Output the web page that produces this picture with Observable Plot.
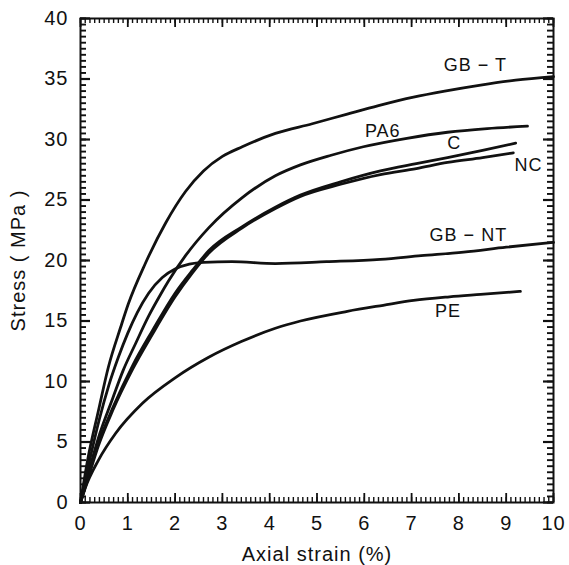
<!DOCTYPE html>
<html>
<head>
<meta charset="utf-8">
<script src="https://cdn.jsdelivr.net/npm/d3@7"></script>
<script src="https://cdn.jsdelivr.net/npm/@observablehq/plot@0.6"></script>
<style>
  html, body { margin: 0; padding: 0; background: #fff; }
  #chart { width: 569px; height: 565px; }
  svg text { font-family: "Liberation Sans", Arial, sans-serif; letter-spacing: 1px; }
</style>
</head>
<body>
<div id="chart"></div>
<script>
// Strain (%) / stress (MPa) pairs
const gbT_x = [0, 0.15, 0.38, 0.59, 0.85, 1.01, 1.37, 1.8, 2.22, 2.6, 3.0, 3.42, 4.12, 4.9, 5.64, 6.3, 7.04, 7.7, 8.46, 9.2, 10];
const gbT_y = [0, 3.5, 7.6, 11.2, 14.5, 16.4, 19.75, 23.1, 25.7, 27.4, 28.6, 29.4, 30.5, 31.3, 32.1, 32.8, 33.5, 34.0, 34.5, 34.9, 35.2];

const pa6_x = [0, 0.2, 0.4, 0.68, 0.9, 1.16, 1.44, 1.65, 1.86, 2.22, 2.71, 3.42, 4.12, 4.65, 5.3, 5.98, 6.9, 7.76, 8.6, 9.45];
const pa6_y = [0, 2.9, 5.6, 8.6, 10.9, 13.1, 15.4, 16.9, 18.3, 20.4, 22.7, 25.2, 27.0, 27.9, 28.7, 29.4, 30.1, 30.6, 30.9, 31.1];

const c_x = [0, 0.2, 0.38, 0.68, 1.1, 1.52, 2.0, 2.37, 2.71, 3.42, 4.12, 4.65, 5.5, 6.34, 7.1, 7.76, 8.5, 9.2];
const c_y = [0, 2.7, 4.9, 7.8, 11.3, 14.2, 17.3, 19.2, 20.8, 22.8, 24.4, 25.4, 26.5, 27.4, 28.0, 28.5, 29.1, 29.7];

const nc_x = [0, 0.2, 0.38, 0.68, 1.1, 1.52, 2.0, 2.37, 2.71, 3.42, 4.12, 4.65, 5.5, 6.34, 7.1, 7.76, 8.5, 9.15];
const nc_y = [0, 2.5, 4.7, 7.6, 11.0, 13.9, 17.0, 19.0, 20.6, 22.7, 24.3, 25.3, 26.3, 27.1, 27.6, 28.1, 28.5, 28.9];

const gbNT_x = [0, 0.2, 0.4, 0.6, 0.8, 1.0, 1.2, 1.44, 1.73, 2.0, 2.3, 2.6, 3.2, 4.12, 5.2, 6.34, 7.2, 8.1, 9.0, 10];
const gbNT_y = [0, 3.6, 6.9, 9.7, 12.0, 14.0, 15.7, 17.3, 18.6, 19.3, 19.7, 19.85, 19.9, 19.75, 19.9, 20.1, 20.4, 20.7, 21.1, 21.5];

const pe_x = [0, 0.1, 0.38, 0.74, 1.31, 2.0, 2.71, 3.4, 4.12, 4.65, 5.64, 6.4, 7.04, 7.8, 8.46, 9.3];
const pe_y = [0, 1.2, 3.5, 5.7, 8.2, 10.3, 12.0, 13.3, 14.4, 15.0, 15.8, 16.3, 16.7, 17.0, 17.2, 17.45];

const seriesNames = ["GB − T", "PA6", "C", "NC", "GB − NT", "PE"];
const seriesX = [gbT_x, pa6_x, c_x, nc_x, gbNT_x, pe_x];
const seriesY = [gbT_y, pa6_y, c_y, nc_y, gbNT_y, pe_y];

// Curve labels (anchored in data coordinates)
const labelText = ["GB − T", "PA6", "C", "NC", "GB − NT", "PE"];
const labelX = [8.35, 6.39, 7.9, 9.47, 8.2, 7.77];
const labelY = [36.1, 30.7, 29.7, 27.9, 22.1, 15.8];

const xTicks = [0, 1, 2, 3, 4, 5, 6, 7, 8, 9, 10];
const yTicks = [0, 5, 10, 15, 20, 25, 30, 35, 40];
const xMinor = d3.range(0, 100.5, 1).map(d => d / 10);
const yMinor = d3.range(0, 80.5, 1).map(d => d / 2);

const rows = [];
seriesNames.forEach((name, i) => {
  seriesX[i].forEach((x, j) => rows.push({series: name, x, y: seriesY[i][j]}));
});
const labels = labelText.map((t, i) => ({t, x: labelX[i], y: labelY[i]}));

const W = 569, H = 565, mL = 80, mR = 16, mT = 18, mB = 63;
const pw = W - mL - mR, ph = H - mT - mB;
const xMax = 10, yMax = 40;
// tick lengths: pixels converted to data units
const ty = px => px * yMax / ph;
const tx = px => px * xMax / pw;
const font = "Liberation Sans, Arial, sans-serif";
const ink = "#111";

const chart = Plot.plot({
  width: W,
  height: H,
  marginLeft: mL,
  marginRight: mR,
  marginTop: mT,
  marginBottom: mB,
  style: {fontFamily: font, fontSize: "20px", background: "#fff"},
  x: {domain: [0, xMax]},
  y: {domain: [0, yMax]},
  marks: [
    Plot.frame({stroke: ink, strokeWidth: 2}),
    // tick labels and axis titles
    Plot.axisX(xTicks, {anchor: "bottom", tickSize: 0, tickPadding: 13, fontSize: 20, fill: ink,
      label: "Axial strain (%)", labelAnchor: "center", labelArrow: "none", labelOffset: 58}),
    Plot.axisY(yTicks, {anchor: "left", tickSize: 0, tickPadding: 12, fontSize: 20, fill: ink,
      label: "Stress ( MPa )", labelAnchor: "center", labelArrow: "none", labelOffset: 70}),
    // curves and their labels
    Plot.line(rows, {x: "x", y: "y", z: "series", stroke: ink, strokeWidth: 2.8, curve: "monotone-x"}),
    Plot.text(labels, {x: "x", y: "y", text: "t", fontSize: 18, fill: ink}),
    // inward ticks on all four sides (drawn last)
    Plot.ruleX(xMinor, {x: d => d, y1: 0, y2: ty(5), stroke: ink, strokeWidth: 1.4}),
    Plot.ruleX(xMinor, {x: d => d, y1: yMax, y2: yMax - ty(5), stroke: ink, strokeWidth: 1.4}),
    Plot.ruleX(xTicks, {x: d => d, y1: 0, y2: ty(9), stroke: ink, strokeWidth: 1.8}),
    Plot.ruleX(xTicks, {x: d => d, y1: yMax, y2: yMax - ty(9), stroke: ink, strokeWidth: 1.8}),
    Plot.ruleY(yMinor, {y: d => d, x1: 0, x2: tx(6), stroke: ink, strokeWidth: 1.9}),
    Plot.ruleY(yMinor, {y: d => d, x1: xMax, x2: xMax - tx(6), stroke: ink, strokeWidth: 1.9}),
    Plot.ruleY(yTicks, {y: d => d, x1: 0, x2: tx(10), stroke: ink, strokeWidth: 2.2}),
    Plot.ruleY(yTicks, {y: d => d, x1: xMax, x2: xMax - tx(10), stroke: ink, strokeWidth: 2.2})
  ]
});
document.getElementById("chart").appendChild(chart);
</script>
</body>
</html>
